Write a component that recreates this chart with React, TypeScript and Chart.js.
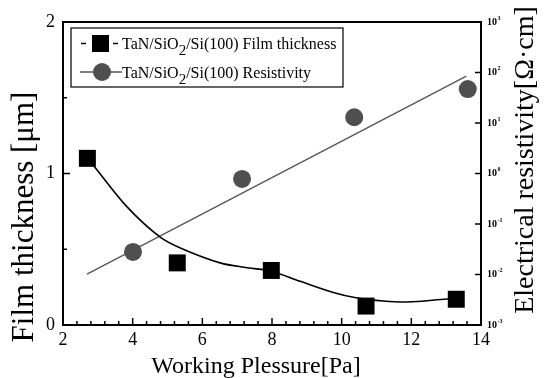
import { useEffect, useRef } from 'react';
import { Chart, registerables } from 'chart.js';

Chart.register(...registerables);

// Film thickness [µm] measured at each working pressure [Pa]
const thicknessPressure = [2.7, 5.28, 7.98, 10.7, 13.29];
const thicknessValues = [1.1, 0.41, 0.36, 0.125, 0.17];

// Smoothed trend through the thickness data
const thicknessCurvePressure = [2.7, 2.92, 3.84, 4.79, 5.45, 6.51, 7.29, 7.98, 8.81, 9.76, 10.45, 11.2, 11.88, 13.03, 13.29];
const thicknessCurveValues = [1.1, 1.04, 0.78, 0.58, 0.5, 0.41, 0.378, 0.355, 0.288, 0.215, 0.178, 0.158, 0.152, 0.172, 0.175];

// Electrical resistivity [Ω·cm]
const resistivityPressure = [4.01, 7.14, 10.36, 13.62];
const resistivityValues = [0.028, 0.78, 13, 47];

// Linear fit on the log scale
const resistivityFitPressure = [2.69, 13.58];
const resistivityFitValues = [0.0102, 85];

const thicknessTicks = [0, 0.5, 1, 1.5, 2];
const resistivityExponents = [-3, -2, -1, 0, 1, 2, 3];

const legendThickness = ['TaN/SiO', '2', '/Si(100) Film thickness'];
const legendResistivity = ['TaN/SiO', '2', '/Si(100) Resistivity'];

const SERIF = '"Liberation Serif", "Times New Roman", serif';
const DOT_GREY = '#4f4f4f';
const LINE_GREY = '#555555';

const toPoints = (xs: number[], ys: number[]) => xs.map((x, i) => ({ x, y: ys[i] }));

const decorations = {
  id: 'decorations',
  afterDraw(chart: any) {
    const { ctx, chartArea } = chart;
    const { left, right, top, bottom } = chartArea;
    const xs = chart.scales.x;
    const ys = chart.scales.y;
    const y2 = chart.scales.y2;
    ctx.save();

    // frame
    ctx.strokeStyle = '#000';
    ctx.lineWidth = 2;
    ctx.strokeRect(left, top, right - left, bottom - top);

    // tick marks, drawn inward
    ctx.lineWidth = 1.5;
    ctx.beginPath();
    for (let i = 0; i <= 30; i++) {
      const v = 2 + i * 0.4;
      const px = xs.getPixelForValue(v);
      const len = i % 5 === 0 ? 7 : 4;
      ctx.moveTo(px, bottom);
      ctx.lineTo(px, bottom - len);
    }
    thicknessTicks.forEach((v, i) => {
      const py = ys.getPixelForValue(v);
      const len = i % 2 === 0 ? 7 : 4;
      ctx.moveTo(left, py);
      ctx.lineTo(left + len, py);
    });
    resistivityExponents.forEach((e) => {
      const py = y2.getPixelForValue(Math.pow(10, e));
      ctx.moveTo(right, py);
      ctx.lineTo(right - 6, py);
    });
    ctx.stroke();

    // log axis labels: 10 with a superscript exponent
    ctx.fillStyle = '#000';
    ctx.textAlign = 'left';
    ctx.textBaseline = 'middle';
    resistivityExponents.forEach((e) => {
      const py = y2.getPixelForValue(Math.pow(10, e));
      ctx.font = `bold 10px ${SERIF}`;
      ctx.fillText('10', right + 6, py);
      const w = ctx.measureText('10').width;
      ctx.font = `bold 6px ${SERIF}`;
      ctx.fillText(String(e), right + 6 + w + 0.5, py - 4);
    });

    // axis titles
    ctx.textAlign = 'center';
    ctx.textBaseline = 'alphabetic';
    ctx.font = `24px ${SERIF}`;
    ctx.fillText('Working Plessure[Pa]', 256, 373);

    ctx.save();
    ctx.translate(33, 217);
    ctx.rotate(-Math.PI / 2);
    ctx.font = `31px ${SERIF}`;
    ctx.fillText('Film thickness [\u03bcm]', 0, 0);
    ctx.restore();

    ctx.save();
    ctx.translate(533, 160);
    ctx.rotate(-Math.PI / 2);
    ctx.font = `28px ${SERIF}`;
    ctx.fillText('Electrical resistivity[\u03a9\u00b7cm]', 0, 0);
    ctx.restore();

    // legend
    ctx.lineWidth = 1.2;
    ctx.strokeStyle = '#000';
    ctx.strokeRect(71, 28, 272, 59);

    const row1 = 43.5;
    const row2 = 72;
    ctx.lineWidth = 1.5;
    ctx.beginPath();
    ctx.moveTo(81, row1);
    ctx.lineTo(86, row1);
    ctx.moveTo(113, row1);
    ctx.lineTo(118, row1);
    ctx.stroke();
    ctx.fillStyle = '#000';
    ctx.fillRect(92, row1 - 8.5, 17, 17);

    ctx.strokeStyle = LINE_GREY;
    ctx.beginPath();
    ctx.moveTo(80, row2);
    ctx.lineTo(122, row2);
    ctx.stroke();
    ctx.fillStyle = DOT_GREY;
    ctx.beginPath();
    ctx.arc(102, row2, 9, 0, Math.PI * 2);
    ctx.fill();

    const drawEntry = (parts: string[], y: number) => {
      ctx.fillStyle = '#000';
      ctx.textAlign = 'left';
      ctx.textBaseline = 'alphabetic';
      let x = 122;
      ctx.font = `16px ${SERIF}`;
      ctx.fillText(parts[0], x, y);
      x += ctx.measureText(parts[0]).width;
      ctx.font = `15px ${SERIF}`;
      ctx.fillText(parts[1], x, y + 6);
      x += ctx.measureText(parts[1]).width;
      ctx.font = `16px ${SERIF}`;
      ctx.fillText(parts[2], x, y);
    };
    drawEntry(legendThickness, row1 + 5.5);
    drawEntry(legendResistivity, row2 + 5.5);

    ctx.restore();
  },
};

export default function App() {
  const canvasRef = useRef<HTMLCanvasElement | null>(null);

  useEffect(() => {
    document.body.style.margin = '0';
    const canvas = canvasRef.current;
    if (!canvas) return;

    const chart = new Chart(canvas, {
      type: 'scatter',
      data: {
        datasets: [
          {
            label: 'TaN/SiO2/Si(100) Film thickness',
            data: toPoints(thicknessPressure, thicknessValues),
            yAxisID: 'y',
            pointStyle: 'rect',
            pointRadius: 12,
            pointHoverRadius: 12,
            backgroundColor: '#000',
            borderColor: '#000',
            borderWidth: 0,
            showLine: false,
          },
          {
            label: 'TaN/SiO2/Si(100) Resistivity',
            data: toPoints(resistivityPressure, resistivityValues),
            yAxisID: 'y2',
            pointStyle: 'circle',
            pointRadius: 9,
            pointHoverRadius: 9,
            backgroundColor: DOT_GREY,
            borderColor: DOT_GREY,
            borderWidth: 0,
            showLine: false,
          },
          {
            label: 'thickness trend',
            data: toPoints(thicknessCurvePressure, thicknessCurveValues),
            yAxisID: 'y',
            showLine: true,
            borderColor: '#000',
            borderWidth: 1.6,
            pointRadius: 0,
            tension: 0.35,
            fill: false,
          },
          {
            label: 'resistivity fit',
            data: toPoints(resistivityFitPressure, resistivityFitValues),
            yAxisID: 'y2',
            showLine: true,
            borderColor: LINE_GREY,
            borderWidth: 1.3,
            pointRadius: 0,
            fill: false,
          },
        ],
      },
      options: {
        animation: false,
        responsive: false,
        devicePixelRatio: 1,
        layout: { padding: { top: 22, left: 0, right: 0, bottom: 0 } },
        plugins: {
          legend: { display: false },
          tooltip: { enabled: false },
        },
        scales: {
          x: {
            type: 'linear',
            position: 'bottom',
            min: 2,
            max: 14,
            grid: { display: false, drawTicks: false },
            border: { display: false },
            ticks: {
              stepSize: 2,
              autoSkip: false,
              maxRotation: 0,
              padding: 4,
              color: '#000',
              font: { family: SERIF, size: 18 },
            },
            afterFit: (s: any) => {
              s.height = 53;
            },
          },
          y: {
            type: 'linear',
            position: 'left',
            min: 0,
            max: 2,
            grid: { display: false, drawTicks: false },
            border: { display: false },
            ticks: {
              stepSize: 1,
              padding: 8,
              color: '#000',
              font: { family: SERIF, size: 18 },
            },
            afterFit: (s: any) => {
              s.width = 63;
            },
          },
          y2: {
            type: 'logarithmic',
            position: 'right',
            min: 1e-3,
            max: 1e3,
            grid: { display: false, drawTicks: false },
            border: { display: false },
            ticks: { display: false },
            afterFit: (s: any) => {
              s.width = 66;
            },
          },
        },
      },
      plugins: [decorations],
    });

    return () => chart.destroy();
  }, []);

  return (
    <div style={{ width: 547, height: 378 }}>
      <canvas ref={canvasRef} width={547} height={378} />
    </div>
  );
}
